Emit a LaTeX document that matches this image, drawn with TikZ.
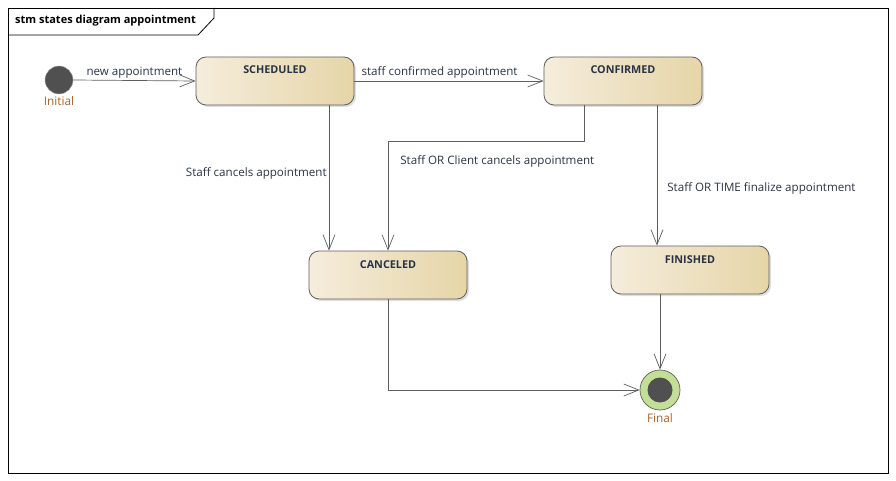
\documentclass[tikz,border=0pt]{standalone}
\usepackage{fontspec}
\setmainfont{Open Sans}
\usetikzlibrary{arrows.meta, positioning, shadows}

\definecolor{edgegray}{HTML}{5E5E5E}
\definecolor{statelight}{HTML}{F5EDDC}
\definecolor{statedark}{HTML}{E6D5A8}
\definecolor{txtnavy}{HTML}{2A3344}
\definecolor{pseudolbl}{HTML}{A8622C}
\definecolor{dotgray}{HTML}{505050}
\definecolor{finalgreen}{HTML}{C3DF97}

\begin{document}
\begin{tikzpicture}[x=1pt, y=-1pt,
    state/.style={draw=edgegray, line width=0.8pt, rounded corners=10pt,
      left color=statelight, right color=statedark,
      minimum width=158pt, inner sep=0pt, text height=17pt, text depth=31pt,
      font=\fontsize{10.8}{13}\selectfont\bfseries, text=txtnavy,
      drop shadow={shadow xshift=2pt, shadow yshift=-2pt, opacity=0.25}},
    trans/.style={draw=edgegray, line width=0.7pt,
      -{Straight Barb[length=15pt, width=12pt, line width=0.7pt]}},
    lbl/.style={font=\fontsize{11.6}{14}\selectfont, text=txtnavy, inner sep=2pt},
    pseudo/.style={font=\fontsize{11.8}{14}\selectfont, text=pseudolbl, inner sep=1pt}]
    \useasboundingbox (0,0) rectangle (896,481);
    % frame
    \draw[line width=0.8pt] (8,8) rectangle (888,473);
    \draw[line width=0.8pt] (8,35) -- (198,35) -- (214,18) -- (214,8);
    \node[anchor=west, font=\fontsize{11}{13}\selectfont\bfseries, inner sep=0pt] (title) at (15,21) {stm states diagram appointment};

    % states
    \node[circle, fill=dotgray, draw=gray!70, minimum size=28pt, inner sep=0pt] (init) at (59,80) {};
    \node[pseudo, below=1pt of init] (initlbl) {Initial};
    \node[state] (sched) at (275,81) {SCHEDULED};
    \node[state] (conf) at (623,81) {CONFIRMED};
    \node[state] (canc) at (388,275) {CANCELED};
    \node[state] (fin) at (690,270) {FINISHED};
    \node[circle, fill=finalgreen, draw=edgegray, line width=0.7pt, minimum size=40pt, inner sep=0pt] (final) at (660,390) {};
    \node[circle, fill=dotgray, minimum size=25pt, inner sep=0pt] (finaldot) at (final) {};
    \node[pseudo, below=2pt of final] (finallbl) {Final};

    % transitions
    \draw[trans] (init.east) -- (sched.west) node[lbl, midway, above] {new appointment};
    \draw[trans] (sched.east) -- (conf.west) node[lbl, pos=0.45, above] {staff confirmed appointment};
    \draw[trans] ([xshift=54pt]sched.south) -- ([xshift=54pt]sched.south |- canc.north)
      node[lbl, pos=0.47, left=0pt] {Staff cancels appointment};
    \draw[trans] ([xshift=-39pt]conf.south) -- ++(0,36) -| (canc.north)
      node[lbl, pos=0.59, right=10pt] {Staff OR Client cancels appointment};
    \draw[trans] ([xshift=34pt]conf.south) -- ([xshift=34pt]conf.south |- fin.north)
      node[lbl, pos=0.59, right=8pt] {Staff OR TIME finalize appointment};
    \draw[trans] (final |- fin.south) -- (final.north);
    \draw[trans] (canc.south) |- (final.west);
\end{tikzpicture}
\end{document}
